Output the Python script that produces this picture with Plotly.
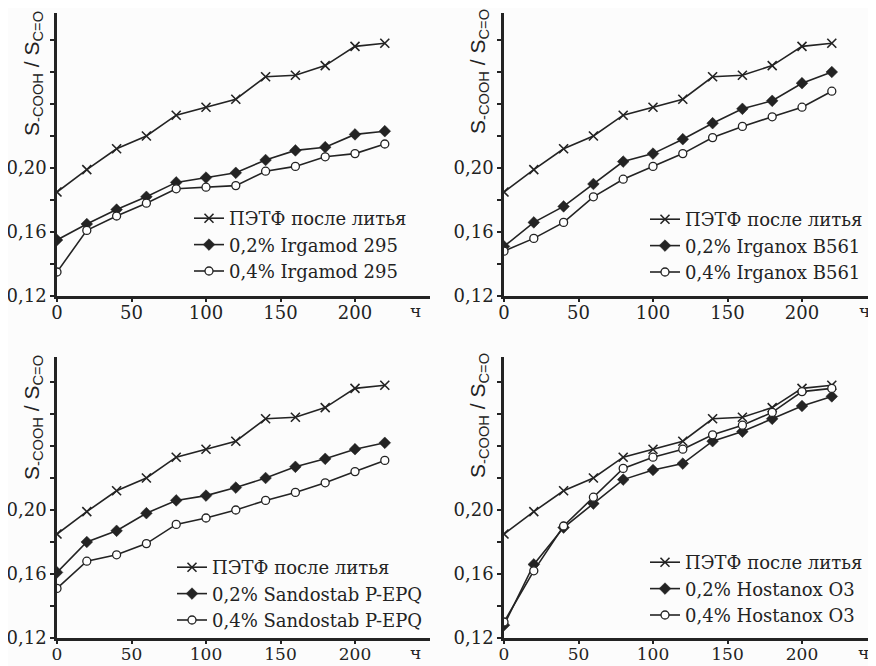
import plotly.graph_objects as go

hours = [0, 20, 40, 60, 80, 100, 120, 140, 160, 180, 200, 220]

# reference: ПЭТФ после литья (same in all panels)
pet = [0.185, 0.199, 0.212, 0.220, 0.233, 0.238, 0.243, 0.257, 0.258, 0.264, 0.276, 0.278]

irgamod_02 = [0.155, 0.165, 0.174, 0.182, 0.191, 0.194, 0.197, 0.205, 0.211, 0.213, 0.221, 0.223]
irgamod_04 = [0.135, 0.161, 0.170, 0.178, 0.187, 0.188, 0.189, 0.198, 0.201, 0.207, 0.209, 0.215]

irganox_02 = [0.151, 0.166, 0.176, 0.190, 0.204, 0.209, 0.218, 0.228, 0.237, 0.242, 0.253, 0.260]
irganox_04 = [0.148, 0.156, 0.166, 0.182, 0.193, 0.201, 0.209, 0.219, 0.226, 0.232, 0.238, 0.248]

sandostab_02 = [0.161, 0.180, 0.187, 0.198, 0.206, 0.209, 0.214, 0.220, 0.227, 0.232, 0.238, 0.242]
sandostab_04 = [0.151, 0.168, 0.172, 0.179, 0.191, 0.195, 0.200, 0.206, 0.211, 0.217, 0.224, 0.231]

hostanox_02 = [0.128, 0.166, 0.189, 0.204, 0.219, 0.225, 0.229, 0.243, 0.249, 0.257, 0.265, 0.271]
hostanox_04 = [0.130, 0.162, 0.190, 0.208, 0.226, 0.233, 0.238, 0.247, 0.253, 0.261, 0.274, 0.276]

ref_name = "ПЭТФ после литья"
panels = [
    ("0,2% Irgamod 295", irgamod_02, "0,4% Irgamod 295", irgamod_04),
    ("0,2% Irganox B561", irganox_02, "0,4% Irganox B561", irganox_04),
    ("0,2% Sandostab P-EPQ", sandostab_02, "0,4% Sandostab P-EPQ", sandostab_04),
    ("0,2% Hostanox O3", hostanox_02, "0,4% Hostanox O3", hostanox_04),
]

y_tickvals = [0.12, 0.16, 0.20]
y_ticktext = ["0,12", "0,16", "0,20"]
y_minorvals = [0.14, 0.18, 0.22, 0.24, 0.26, 0.28]
x_tickvals = [0, 50, 100, 150, 200]
x_ticktext = ["0", "50", "100", "150", "200"]

# the page body has an 8px margin; lay out in window pixels and shift
OFF = 8
W, H = 876 - OFF, 666 - OFF
INK = "#232323"
SERIF = "DejaVu Serif"


def px(x):
    return (x - OFF) / W


def py(y):
    return 1 - (y - OFF) / H


# window-pixel geometry of each panel: (left, right, top, bottom)
geom = [
    (57, 430, 13, 296),
    (504, 876, 13, 296),
    (57, 430, 357, 638),
    (504, 876, 357, 638),
]
legend_pos = [(189, 200), (645, 201), (172, 549), (645, 544)]
ytitle_pos = [(33, 74), (479, 72), (33, 418), (479, 416)]
xunit_pos = [(415, 311), (864, 311), (415, 653), (863, 653)]

fig = go.Figure()
layout = {}
annotations = []

for i, (n2, v2, n4, v4) in enumerate(panels):
    k = i + 1
    sfx = "" if k == 1 else str(k)
    xa, ya = "x" + sfx, "y" + sfx
    lg = "legend" + sfx
    common = dict(x=hours, xaxis=xa, yaxis=ya, mode="lines+markers",
                  line=dict(color=INK, width=1.6), legend=lg)
    fig.add_trace(go.Scatter(y=pet, name=ref_name,
                             marker=dict(symbol="x-thin-open", size=9,
                                         line=dict(color=INK, width=1.6)),
                             **common))
    fig.add_trace(go.Scatter(y=v2, name=n2,
                             marker=dict(symbol="diamond", size=9, color=INK,
                                         line=dict(color=INK, width=0.5)),
                             **common))
    fig.add_trace(go.Scatter(y=v4, name=n4,
                             marker=dict(symbol="circle", size=8, color="white",
                                         line=dict(color=INK, width=1.3)),
                             **common))
    l, r, t, b = geom[i]
    fs = 18 if k <= 2 else 17
    layout["xaxis" + sfx] = dict(
        domain=[px(l), min(px(r), 1)], range=[0, (r - l) / 1.49], anchor=ya,
        tickvals=x_tickvals, ticktext=x_ticktext, ticks="outside", ticklen=3,
        tickwidth=1.5, tickcolor=INK, showline=True, linecolor=INK, linewidth=2.5,
        ticklabelstandoff=-4,
        showgrid=False, zeroline=False, fixedrange=True, automargin=False,
        tickfont=dict(family=SERIF, size=fs, color=INK))
    layout["yaxis" + sfx] = dict(
        domain=[py(b), py(t)], range=[0.12, 0.12 + (b - t) / 1600], anchor=xa,
        tickvals=y_tickvals, ticktext=y_ticktext, ticks="outside", ticklen=4,
        tickwidth=1.5, tickcolor=INK, showline=True, linecolor=INK, linewidth=2.5,
        minor=dict(tickmode="array", tickvals=y_minorvals, ticks="outside",
                   ticklen=4, tickwidth=1.5, tickcolor=INK, showgrid=False),
        showgrid=False, zeroline=False, fixedrange=True, automargin=False,
        tickfont=dict(family=SERIF, size=18, color=INK))
    lx, ly = legend_pos[i]
    layout[lg] = dict(x=px(lx), y=py(ly), xanchor="left", yanchor="top",
                      bgcolor="rgba(0,0,0,0)", itemwidth=30,
                      font=dict(family=SERIF, size=18, color=INK),
                      tracegroupgap=0)
    tx, ty = ytitle_pos[i]
    annotations.append(dict(
        xref="paper", yref="paper", x=px(tx), y=py(ty), showarrow=False,
        textangle=-90, xanchor="center", yanchor="middle",
        text="S<sub>-COOH</sub> / S<sub>C=O</sub>",
        font=dict(family="Liberation Sans", size=21, color=INK)))
    ux, uy = xunit_pos[i]
    annotations.append(dict(
        xref="paper", yref="paper", x=px(ux), y=py(uy), showarrow=False,
        xanchor="center", yanchor="middle", text="ч",
        font=dict(family=SERIF, size=17, color=INK)))

fig.update_layout(
    width=W, height=H, margin=dict(l=0, r=0, t=0, b=0, autoexpand=False),
    paper_bgcolor="#fcfcfc", plot_bgcolor="#fcfcfc",
    showlegend=True, annotations=annotations, **layout)

fig.write_html("out.html")
